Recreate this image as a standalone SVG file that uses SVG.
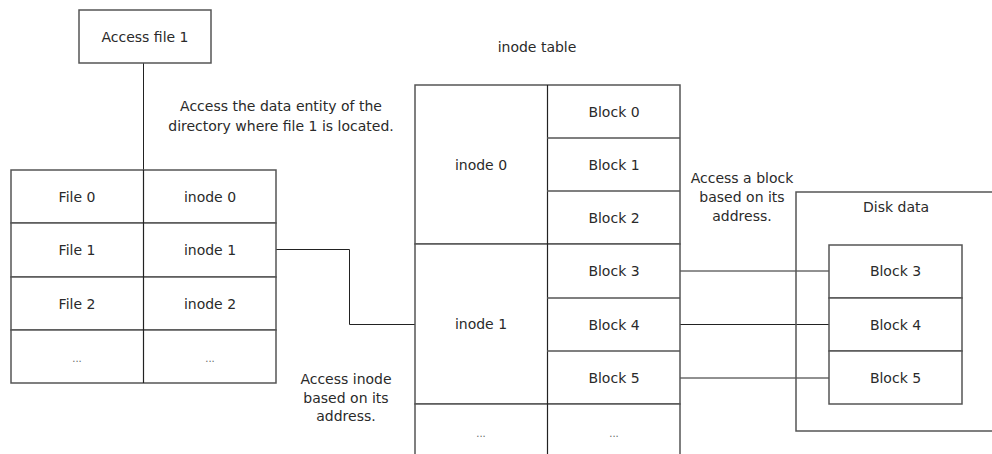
<svg xmlns="http://www.w3.org/2000/svg" width="992" height="454" viewBox="0 0 992 454">
<style>
text{font-family:"DejaVu Sans","Liberation Sans",sans-serif;font-size:14px;fill:#2a2a2a;text-anchor:middle;dominant-baseline:central}
text.dots{font-size:10px;fill:#666}
.cell{fill:#fff;stroke:#555;stroke-width:1.5}
.div{stroke:#222;stroke-width:1.2}
.conn{fill:none;stroke:#222;stroke-width:1}
</style>
<rect width="992" height="454" fill="#fff"/>

<g id="connectors">
<line class="conn" x1="143.5" y1="63" x2="143.5" y2="170"/>
<polyline class="conn" points="276,249.5 349.5,249.5 349.5,324.5 415,324.5"/>
<line class="conn" x1="680" y1="271" x2="829" y2="271"/>
<line class="conn" x1="680" y1="324.5" x2="829" y2="324.5"/>
<line class="conn" x1="680" y1="378" x2="829" y2="378"/>
</g>

<g id="access-file-1">
<rect class="cell" x="79" y="10" width="132" height="53"/>
<text x="145" y="37">Access file 1</text>
</g>

<g id="label-dir">
<text x="281" y="106">Access the data entity of the</text>
<text x="281" y="126">directory where file 1 is located.</text>
</g>

<g id="directory-table">
<rect class="cell" x="11" y="170" width="265" height="53"/>
<rect class="cell" x="11" y="223" width="265" height="54"/>
<rect class="cell" x="11" y="277" width="265" height="53"/>
<rect class="cell" x="11" y="330" width="265" height="53"/>
<line class="div" x1="143.5" y1="170" x2="143.5" y2="383"/>
<text x="77" y="196.5">File 0</text>
<text x="210" y="196.5">inode 0</text>
<text x="77" y="250">File 1</text>
<text x="210" y="250">inode 1</text>
<text x="77" y="303.5">File 2</text>
<text x="210" y="303.5">inode 2</text>
<text class="dots" x="77" y="358">...</text>
<text class="dots" x="210" y="358">...</text>
</g>

<g id="label-inode-table">
<text x="537" y="47">inode table</text>
</g>

<g id="inode-table">
<rect class="cell" x="415" y="85" width="265" height="159"/>
<rect class="cell" x="415" y="244" width="265" height="160"/>
<rect class="cell" x="415" y="404" width="265" height="56"/>
<line class="div" x1="547.5" y1="85" x2="547.5" y2="460"/>
<line class="cell" x1="547" y1="138" x2="680" y2="138"/>
<line class="cell" x1="547" y1="191" x2="680" y2="191"/>
<line class="cell" x1="547" y1="298" x2="680" y2="298"/>
<line class="cell" x1="547" y1="351" x2="680" y2="351"/>
<text x="481" y="164.5">inode 0</text>
<text x="481" y="324">inode 1</text>
<text class="dots" x="481" y="433">...</text>
<text x="614" y="111.5">Block 0</text>
<text x="614" y="164.5">Block 1</text>
<text x="614" y="217.5">Block 2</text>
<text x="614" y="271">Block 3</text>
<text x="614" y="324.5">Block 4</text>
<text x="614" y="377.5">Block 5</text>
<text class="dots" x="614" y="433">...</text>
</g>

<g id="label-inode-addr">
<text x="346" y="379">Access inode</text>
<text x="346" y="398">based on its</text>
<text x="346" y="416">address.</text>
</g>

<g id="label-block-addr">
<text x="742" y="178">Access a block</text>
<text x="742" y="197">based on its</text>
<text x="742" y="216">address.</text>
</g>

<g id="disk-data">
<rect class="cell" x="796" y="192" width="210" height="239" style="fill:none"/>
<text x="896" y="207">Disk data</text>
</g>

<g id="disk-blocks">
<rect class="cell" x="829" y="245" width="133" height="53"/>
<rect class="cell" x="829" y="298" width="133" height="53"/>
<rect class="cell" x="829" y="351" width="133" height="53"/>
<text x="895.5" y="271">Block 3</text>
<text x="895.5" y="324.5">Block 4</text>
<text x="895.5" y="378">Block 5</text>
</g>
</svg>
